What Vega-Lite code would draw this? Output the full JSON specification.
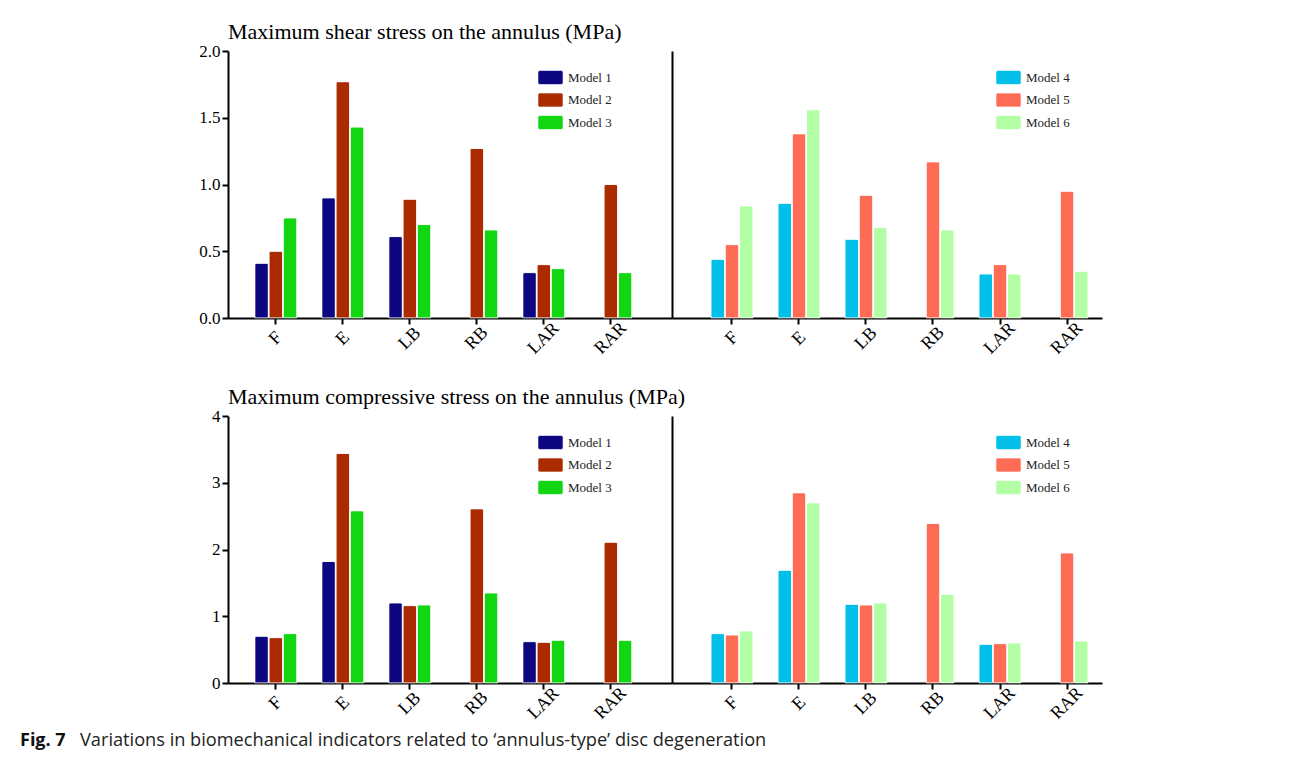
{
  "$schema": "https://vega.github.io/schema/vega-lite/v6.json",
  "padding": {"left": 20, "top": 21, "right": 5, "bottom": 5},
  "background": "white",
  "datasets": {
    "shearLeft": [
      {"loading": "F", "model": "Model 1", "value": 0.41},
      {"loading": "F", "model": "Model 2", "value": 0.50},
      {"loading": "F", "model": "Model 3", "value": 0.75},
      {"loading": "E", "model": "Model 1", "value": 0.90},
      {"loading": "E", "model": "Model 2", "value": 1.77},
      {"loading": "E", "model": "Model 3", "value": 1.43},
      {"loading": "LB", "model": "Model 1", "value": 0.61},
      {"loading": "LB", "model": "Model 2", "value": 0.89},
      {"loading": "LB", "model": "Model 3", "value": 0.70},
      {"loading": "RB", "model": "Model 2", "value": 1.27},
      {"loading": "RB", "model": "Model 3", "value": 0.66},
      {"loading": "LAR", "model": "Model 1", "value": 0.34},
      {"loading": "LAR", "model": "Model 2", "value": 0.40},
      {"loading": "LAR", "model": "Model 3", "value": 0.37},
      {"loading": "RAR", "model": "Model 2", "value": 1.00},
      {"loading": "RAR", "model": "Model 3", "value": 0.34}
    ],
    "shearRight": [
      {"loading": "F", "model": "Model 4", "value": 0.44},
      {"loading": "F", "model": "Model 5", "value": 0.55},
      {"loading": "F", "model": "Model 6", "value": 0.84},
      {"loading": "E", "model": "Model 4", "value": 0.86},
      {"loading": "E", "model": "Model 5", "value": 1.38},
      {"loading": "E", "model": "Model 6", "value": 1.56},
      {"loading": "LB", "model": "Model 4", "value": 0.59},
      {"loading": "LB", "model": "Model 5", "value": 0.92},
      {"loading": "LB", "model": "Model 6", "value": 0.68},
      {"loading": "RB", "model": "Model 5", "value": 1.17},
      {"loading": "RB", "model": "Model 6", "value": 0.66},
      {"loading": "LAR", "model": "Model 4", "value": 0.33},
      {"loading": "LAR", "model": "Model 5", "value": 0.40},
      {"loading": "LAR", "model": "Model 6", "value": 0.33},
      {"loading": "RAR", "model": "Model 5", "value": 0.95},
      {"loading": "RAR", "model": "Model 6", "value": 0.35}
    ],
    "compLeft": [
      {"loading": "F", "model": "Model 1", "value": 0.70},
      {"loading": "F", "model": "Model 2", "value": 0.68},
      {"loading": "F", "model": "Model 3", "value": 0.74},
      {"loading": "E", "model": "Model 1", "value": 1.82},
      {"loading": "E", "model": "Model 2", "value": 3.44},
      {"loading": "E", "model": "Model 3", "value": 2.58},
      {"loading": "LB", "model": "Model 1", "value": 1.20},
      {"loading": "LB", "model": "Model 2", "value": 1.16},
      {"loading": "LB", "model": "Model 3", "value": 1.17},
      {"loading": "RB", "model": "Model 2", "value": 2.61},
      {"loading": "RB", "model": "Model 3", "value": 1.35},
      {"loading": "LAR", "model": "Model 1", "value": 0.62},
      {"loading": "LAR", "model": "Model 2", "value": 0.61},
      {"loading": "LAR", "model": "Model 3", "value": 0.64},
      {"loading": "RAR", "model": "Model 2", "value": 2.11},
      {"loading": "RAR", "model": "Model 3", "value": 0.64}
    ],
    "compRight": [
      {"loading": "F", "model": "Model 4", "value": 0.74},
      {"loading": "F", "model": "Model 5", "value": 0.72},
      {"loading": "F", "model": "Model 6", "value": 0.78},
      {"loading": "E", "model": "Model 4", "value": 1.69},
      {"loading": "E", "model": "Model 5", "value": 2.85},
      {"loading": "E", "model": "Model 6", "value": 2.70},
      {"loading": "LB", "model": "Model 4", "value": 1.18},
      {"loading": "LB", "model": "Model 5", "value": 1.17},
      {"loading": "LB", "model": "Model 6", "value": 1.20},
      {"loading": "RB", "model": "Model 5", "value": 2.39},
      {"loading": "RB", "model": "Model 6", "value": 1.33},
      {"loading": "LAR", "model": "Model 4", "value": 0.58},
      {"loading": "LAR", "model": "Model 5", "value": 0.59},
      {"loading": "LAR", "model": "Model 6", "value": 0.60},
      {"loading": "RAR", "model": "Model 5", "value": 1.95},
      {"loading": "RAR", "model": "Model 6", "value": 0.63}
    ]
  },
  "config": {
    "view": {"stroke": null},
    "axis": {
      "domainColor": "black", "domainWidth": 2, "tickColor": "black", "tickWidth": 2, "tickSize": 6,
      "labelFont": "Liberation Serif", "labelFontSize": 17, "labelColor": "black", "grid": false, "title": null, "labelPadding": 2
    },
    "axisX": {"labelAngle": -45, "labelAlign": "center", "labelBaseline": "middle", "labelPadding": 14, "labelFontSize": 18},
    "legend": {
      "orient": "none", "legendY": 20, "title": null, "padding": 0,
      "symbolSize": 80, "labelOffset": 11, "rowPadding": 5.5, "symbolStrokeWidth": 0, "symbolOpacity": 1,
      "labelFont": "Liberation Serif", "labelFontSize": 13, "labelColor": "#222"
    },
    "title": {"font": "Liberation Serif", "fontSize": 22, "fontWeight": "normal", "anchor": "start", "frame": "group", "color": "black", "offset": -2},
    "bar": {"stroke": "white", "strokeWidth": 0.6, "cornerRadiusTopLeft": 2, "cornerRadiusTopRight": 2},
    "concat": {"spacing": 0}
  },
  "title": {
    "text": "Variations in biomechanical indicators related to \u2018annulus-type\u2019 disc degeneration",
    "orient": "bottom", "anchor": "start", "frame": "group",
    "font": "Open Sans", "fontSize": 18.2, "fontWeight": "normal", "color": "#222", "dx": -148, "dy": -22, "offset": 4
  },
  "vconcat": [
    {
      "hconcat": [
        {
          "width": 444, "height": 267,
          "title": {"text": "Maximum shear stress on the annulus (MPa)"},
          "data": {"name": "shearLeft"},
          "mark": "bar",
          "encoding": {
            "x": {"field": "loading", "type": "nominal", "sort": ["F", "E", "LB", "RB", "LAR", "RAR"],
                  "scale": {"paddingInner": 0.373, "paddingOuter": 0.5, "align": 0.4}},
            "xOffset": {"field": "model", "type": "nominal", "scale": {"domain": ["Model 1", "Model 2", "Model 3"], "paddingInner": 0.05}},
            "y": {"field": "value", "type": "quantitative", "scale": {"domain": [0, 2]},
                  "axis": {"values": [0, 0.5, 1, 1.5, 2], "format": ".1f"}},
            "color": {"field": "model", "type": "nominal",
                      "scale": {"domain": ["Model 1", "Model 2", "Model 3"], "range": ["#0c0680", "#ab2b00", "#13d613"]},
                      "legend": {"legendX": 316, "symbolType": "M-2.4,-1.56 L2.4,-1.56 Q2.8,-1.56 2.8,-1.16 L2.8,1.16 Q2.8,1.56 2.4,1.56 L-2.4,1.56 Q-2.8,1.56 -2.8,1.16 L-2.8,-1.16 Q-2.8,-1.56 -2.4,-1.56 Z"}}
          }
        },
        {
          "width": 430, "height": 267,
          "data": {"name": "shearRight"},
          "mark": "bar",
          "encoding": {
            "x": {"field": "loading", "type": "nominal", "sort": ["F", "E", "LB", "RB", "LAR", "RAR"],
                  "scale": {"paddingInner": 0.373, "paddingOuter": 0.395, "align": 0.736}},
            "xOffset": {"field": "model", "type": "nominal", "scale": {"domain": ["Model 4", "Model 5", "Model 6"], "paddingInner": 0.05}},
            "y": {"field": "value", "type": "quantitative", "scale": {"domain": [0, 2]},
                  "axis": {"labels": false, "ticks": false}},
            "color": {"field": "model", "type": "nominal",
                      "scale": {"domain": ["Model 4", "Model 5", "Model 6"], "range": ["#00bfe8", "#ff6c55", "#b3ffa6"]},
                      "legend": {"legendX": 330, "symbolType": "M-2.4,-1.56 L2.4,-1.56 Q2.8,-1.56 2.8,-1.16 L2.8,1.16 Q2.8,1.56 2.4,1.56 L-2.4,1.56 Q-2.8,1.56 -2.8,1.16 L-2.8,-1.16 Q-2.8,-1.56 -2.4,-1.56 Z"}}
          }
        }
      ],
      "bounds": "flush",
      "resolve": {"scale": {"color": "independent", "y": "independent", "x": "independent", "xOffset": "independent"}}
    },
    {
      "hconcat": [
        {
          "width": 444, "height": 267,
          "title": {"text": "Maximum compressive stress on the annulus (MPa)"},
          "data": {"name": "compLeft"},
          "mark": "bar",
          "encoding": {
            "x": {"field": "loading", "type": "nominal", "sort": ["F", "E", "LB", "RB", "LAR", "RAR"],
                  "scale": {"paddingInner": 0.373, "paddingOuter": 0.5, "align": 0.4}},
            "xOffset": {"field": "model", "type": "nominal", "scale": {"domain": ["Model 1", "Model 2", "Model 3"], "paddingInner": 0.05}},
            "y": {"field": "value", "type": "quantitative", "scale": {"domain": [0, 4]},
                  "axis": {"values": [0, 1, 2, 3, 4], "format": "d"}},
            "color": {"field": "model", "type": "nominal",
                      "scale": {"domain": ["Model 1", "Model 2", "Model 3"], "range": ["#0c0680", "#ab2b00", "#13d613"]},
                      "legend": {"legendX": 316, "symbolType": "M-2.4,-1.56 L2.4,-1.56 Q2.8,-1.56 2.8,-1.16 L2.8,1.16 Q2.8,1.56 2.4,1.56 L-2.4,1.56 Q-2.8,1.56 -2.8,1.16 L-2.8,-1.16 Q-2.8,-1.56 -2.4,-1.56 Z"}}
          }
        },
        {
          "width": 430, "height": 267,
          "data": {"name": "compRight"},
          "mark": "bar",
          "encoding": {
            "x": {"field": "loading", "type": "nominal", "sort": ["F", "E", "LB", "RB", "LAR", "RAR"],
                  "scale": {"paddingInner": 0.373, "paddingOuter": 0.395, "align": 0.736}},
            "xOffset": {"field": "model", "type": "nominal", "scale": {"domain": ["Model 4", "Model 5", "Model 6"], "paddingInner": 0.05}},
            "y": {"field": "value", "type": "quantitative", "scale": {"domain": [0, 4]},
                  "axis": {"labels": false, "ticks": false}},
            "color": {"field": "model", "type": "nominal",
                      "scale": {"domain": ["Model 4", "Model 5", "Model 6"], "range": ["#00bfe8", "#ff6c55", "#b3ffa6"]},
                      "legend": {"legendX": 330, "symbolType": "M-2.4,-1.56 L2.4,-1.56 Q2.8,-1.56 2.8,-1.16 L2.8,1.16 Q2.8,1.56 2.4,1.56 L-2.4,1.56 Q-2.8,1.56 -2.8,1.16 L-2.8,-1.16 Q-2.8,-1.56 -2.4,-1.56 Z"}}
          }
        }
      ],
      "bounds": "flush",
      "title": {"text": "Fig. 7", "orient": "bottom", "anchor": "start", "frame": "group", "font": "Open Sans", "fontSize": 18, "fontWeight": "bold", "color": "#111", "dx": -208, "offset": 10},
      "resolve": {"scale": {"color": "independent", "y": "independent", "x": "independent", "xOffset": "independent"}}
    }
  ],
  "spacing": 28
}
